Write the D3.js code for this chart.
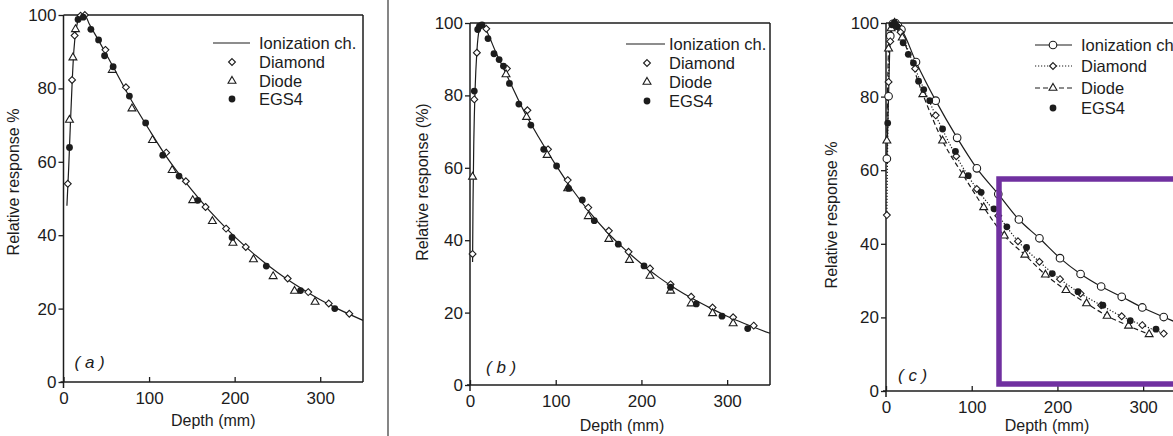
<!DOCTYPE html>
<html>
<head>
<meta charset="utf-8">
<script src="https://cdn.jsdelivr.net/npm/d3@7"></script>
<style>
body{margin:0;background:#fff}
svg text{font-family:"Liberation Sans",Arial,sans-serif;fill:#1c1c1c}
.tick text{font-family:"Liberation Sans Narrow","Liberation Sans",sans-serif;font-size:17px}
</style>
</head>
<body>
<div id="chart"></div>
<script>
var depthTicks = [0, 100, 200, 300];
var responseTicks = [0, 20, 40, 60, 80, 100];
var seriesNames = ["Ionization ch.", "Diamond", "Diode", "EGS4"];
var yTitles = ["Relative response %", "Relative response (%)", "Relative response %"];
var panelTags = ["a", "b", "c"];

// panel (a)  [depth mm, relative response %]
var ionA = [[4,48],[6,58],[8,70],[10,81],[12,90],[15,96.5],[18,99],[22,100],[26,99.6],[30,97.6],[40,93.5],[50,89.3],[60,85],[80,76.5],[100,68.8],[120,61.5],[140,55.2],[160,49.5],[180,44.3],[200,39.6],[220,35.4],[240,31.6],[260,28.2],[280,25.2],[300,22.4],[320,20],[350,16.8]];
var diamondA = [[5,54],[10,82.3],[13,94.4],[20,99.8],[25,100],[49,90.5],[73,80.3],[120,62.5],[143,54.7],[166,47.7],[190,41.8],[213,36.8],[262,28.2],[286,24.5],[310,21.4],[334,18.6]];
var diodeA = [[7,71.4],[11,88.4],[14,96.1],[57,85],[80,74.5],[104,65.9],[127,57.7],[151,49.5],[174,43.8],[198,37.9],[222,33.4],[245,28.8],[270,24.8],[294,21.8]];
var egsA = [[7,63.9],[17,98.8],[23,99.4],[32,96.1],[41,93.2],[48,88.9],[58,85.9],[77,77.9],[96,70.6],[116,61.8],[135,56.1],[157,49.5],[197,39.4],[237,31.6],[277,24.9],[317,20]];

// panel (b)
var ionB = [[3,34],[3.5,50],[4.5,68],[6,82],[8,92],[11,98.5],[14,100],[20,97.5],[30,92],[40,87],[50,82],[60,77],[80,68.5],[100,60.8],[120,53.8],[140,47.6],[160,42.2],[180,37.6],[200,33.5],[220,29.8],[240,26.6],[260,23.8],[280,21.3],[300,19],[320,17],[350,14.3]];
var diamondB = [[3,36.2],[5,78.9],[8,91.8],[19,98.4],[43,87.4],[67,75.9],[91,65.1],[114,56.6],[138,49],[162,42.6],[185,36.8],[210,32.2],[234,27.8],[258,24.4],[283,21.4],[307,18.7],[331,16.4]];
var diodeB = [[3,57.5],[42,85.8],[66,74],[90,63.5],[114,54.3],[138,46.6],[162,40.3],[186,34.5],[210,30.1],[234,26],[258,22.5],[283,19.8],[307,17]];
var egsB = [[5,81.2],[9,98.2],[11,99.1],[14,99.5],[21,95.7],[28,91.5],[34,89.9],[39,88.1],[46,83.3],[57,77.6],[71,71.8],[86,65.1],[101,60.5],[115,54.3],[131,51.1],[145,45.4],[173,38.9],[203,32.9],[234,27],[264,22.4],[294,19],[324,15.6]];

// panel (c)
var ionC = [[1,63.1],[3,80.1],[5,96.5],[8,99.8],[11,100],[14,99.2],[18,98.2],[35,89.4],[58,78.9],[83,68.8],[106,60.5],[131,53.5],[155,46.6],[179,41.5],[203,36.1],[227,31.8],[251,28.4],[275,25.6],[299,22.7],[324,20.1]];
var ionCTail = [[345,18]];
var diamondC = [[1,47.8],[3,84],[5,95],[9,99.5],[13,99.2],[17,97.5],[34,87.6],[58,74.9],[82,63.8],[106,54.9],[131,47.6],[154,40.7],[179,35.1],[203,30.4],[227,26.5],[251,23.3],[275,20.3],[299,17.9],[324,15.6]];
var diodeC = [[1,68],[3,93],[6,98.5],[10,100],[19,96],[43,80.6],[66,68],[90,58.7],[114,49.9],[138,42.2],[162,37],[186,31.6],[210,27.4],[234,23.8],[258,20.4],[283,17.7],[307,15.4]];
var egsC = [[2,72.8],[7,99.5],[10,100],[13,99],[20,94.6],[26,91.5],[32,89.1],[38,84.2],[44,81.9],[51,78.9],[66,71.2],[81,65.1],[96,58.5],[111,54],[126,49.5],[141,44.6],[164,39],[194,31.9],[224,27],[253,23.3],[285,19.1],[315,16.8]];

var ink = "#1c1c1c";
var svg = d3.select("#chart").append("svg")
    .attr("width", 1173)
    .attr("height", 436);

function marker(g, kind, cx, cy) {
    if (kind == "dot") {
        g.append("circle").attr("cx", cx).attr("cy", cy).attr("r", 3.4).attr("fill", ink);
    } else if (kind == "circle") {
        g.append("circle").attr("cx", cx).attr("cy", cy).attr("r", 3.8)
            .attr("fill", "#fff").attr("stroke", ink).attr("stroke-width", 1.1);
    } else {
        var sym = kind == "diamond" ? d3.symbolDiamond2 : d3.symbolTriangle;
        var size = kind == "diamond" ? 30 : 27;
        g.append("path").attr("d", d3.symbol().type(sym).size(size)())
            .attr("transform", "translate(" + cx + "," + cy + ")")
            .attr("fill", "#fff").attr("stroke", ink).attr("stroke-width", 1.1);
    }
}

function drawPanel(p) {
    var x = d3.scaleLinear().domain([0, 350]).range([p.left, p.right]);
    var y = d3.scaleLinear().domain([0, 100]).range([p.bottom, p.top]);
    var g = svg.append("g");

    // frame
    var frame = [[p.left, p.top, p.left, p.bottom + 6], [p.left, p.top, p.right, p.top],
                 [p.right, p.top, p.right, p.bottom], [p.left - 3, p.bottom, p.right, p.bottom]];
    frame.forEach(f => g.append("line")
        .attr("x1", f[0]).attr("y1", f[1]).attr("x2", f[2]).attr("y2", f[3])
        .attr("stroke", ink).attr("stroke-width", 1.5));

    var ay = g.append("g").attr("transform", "translate(" + p.left + ",0)")
        .call(d3.axisLeft(y).tickValues(responseTicks).tickSize(5).tickPadding(2));
    var ax = g.append("g").attr("transform", "translate(0," + p.bottom + ")")
        .call(d3.axisBottom(x).tickValues(depthTicks).tickSizeInner(-5).tickSizeOuter(0).tickPadding(10));
    [ax, ay].forEach(a => {
        a.select(".domain").remove();
        a.selectAll(".tick line").attr("stroke", ink).attr("stroke-width", 1.3);
        a.selectAll(".tick text").attr("fill", ink);
    });

    // titles
    g.append("text").attr("x", (p.left + p.right) / 2 - p.depthShift).attr("y", p.bottom + p.depthDy)
        .attr("text-anchor", "middle").style("font-size", "16px").text("Depth (mm)");
    g.append("text").attr("transform", "translate(" + p.titleX + "," + p.titleY + ") rotate(-90)")
        .attr("text-anchor", "middle").style("font-size", "16px").text(p.yTitle);
    g.append("text").attr("x", p.left + p.tagDx).attr("y", p.bottom - p.tagDy)
        .style("font-size", "17px").style("font-style", "italic")
        .attr("xml:space", "preserve").text("( " + p.tag + " )");

    var line = d3.line().x(d => x(d[0])).y(d => y(d[1])).curve(d3.curveMonotoneX);

    // curves
    p.series.forEach(s => {
        if (s.dash !== undefined) {
            g.append("path").datum(s.line || s.data).attr("d", line)
                .attr("fill", "none").attr("stroke", ink).attr("stroke-width", 1.2)
                .attr("stroke-dasharray", s.dash);
        }
    });
    p.series.forEach(s => {
        if (s.mark) s.data.forEach(d => marker(g, s.mark, x(d[0]), y(d[1])));
    });

    // legend
    var L = p.legend;
    p.series.forEach((s, i) => {
        var ly = L.rows[i];
        if (s.dash !== undefined) {
            g.append("line").attr("x1", L.x1).attr("x2", L.x2).attr("y1", ly).attr("y2", ly)
                .attr("stroke", ink).attr("stroke-width", 1.2).attr("stroke-dasharray", s.dash);
        }
        if (s.mark) marker(g, s.mark, L.mx, ly);
        g.append("text").attr("x", L.tx).attr("y", ly).attr("dy", "0.36em")
            .style("font-size", "16.5px").text(seriesNames[i]);
    });
}

// separator between panels (a) and (b)
svg.append("line").attr("x1", 388).attr("x2", 388).attr("y1", 0).attr("y2", 436)
    .attr("stroke", "#444").attr("stroke-width", 1.3);

drawPanel({
    left: 63.5, right: 363, top: 15, bottom: 382, tag: panelTags[0], yTitle: yTitles[0],
    titleX: 19, titleY: 182, depthShift: 0, depthDy: 44, tagDx: 11, tagDy: 14,
    legend: {x1: 213, x2: 250, mx: 232, tx: 259, rows: [43, 62, 81, 99]},
    series: [
        {data: ionA, dash: "none"},
        {data: diamondA, mark: "diamond"},
        {data: diodeA, mark: "triangle"},
        {data: egsA, mark: "dot"}
    ]
});

drawPanel({
    left: 470, right: 770, top: 23, bottom: 385, tag: panelTags[1], yTitle: yTitles[1],
    titleX: 428, titleY: 182, depthShift: -2, depthDy: 46, tagDx: 16, tagDy: 12,
    legend: {x1: 626, x2: 665, mx: 647, tx: 669, rows: [44, 63, 82, 101]},
    series: [
        {data: ionB, dash: "none"},
        {data: diamondB, mark: "diamond"},
        {data: diodeB, mark: "triangle"},
        {data: egsB, mark: "dot"}
    ]
});

drawPanel({
    left: 886, right: 1186, top: 23, bottom: 391, tag: panelTags[2], yTitle: yTitles[2],
    titleX: 837, titleY: 215, depthShift: -11, depthDy: 40, tagDx: 12, tagDy: 10,
    legend: {x1: 1035, x2: 1072, mx: 1053, tx: 1081, rows: [45, 66, 88, 108]},
    series: [
        {data: ionC, line: ionC.concat(ionCTail), dash: "none", mark: "circle"},
        {data: diamondC, dash: "1.2,1.8", mark: "diamond"},
        {data: diodeC, dash: "5,3", mark: "triangle"},
        {data: egsC, mark: "dot"}
    ]
});

// highlight box drawn over panel (c)
svg.append("rect").attr("x", 999).attr("y", 179).attr("width", 200).attr("height", 205)
    .attr("fill", "none").attr("stroke", "#7030a0").attr("stroke-width", 5.5);
</script>
</body>
</html>
